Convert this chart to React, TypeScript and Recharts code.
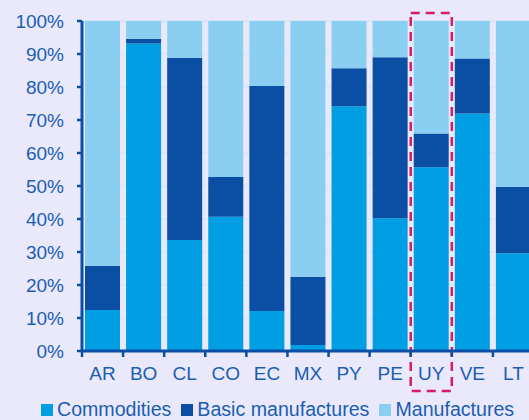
import React from 'react';
import { BarChart, Bar, XAxis, YAxis, CartesianGrid, Legend, ReferenceArea } from 'recharts';

const categories = ['AR', 'BO', 'CL', 'CO', 'EC', 'MX', 'PY', 'PE', 'UY', 'VE', 'LT'];
const commodities = [12.4, 93.2, 33.6, 40.7, 12.1, 1.8, 74.2, 40.2, 55.7, 72.0, 29.6];
const basicManufactures = [13.4, 1.4, 55.3, 12.0, 68.2, 20.7, 11.5, 48.8, 10.2, 16.6, 20.2];
const manufactures = [74.2, 5.4, 11.1, 47.3, 19.7, 77.5, 14.3, 11.0, 34.1, 11.4, 50.2];
const yTicks = [0, 10, 20, 30, 40, 50, 60, 70, 80, 90, 100];
const seriesNames = ['Commodities', 'Basic manufactures', 'Manufactures'];
const highlighted = 'UY';
const highlightLow = -12.1;
const highlightHigh = 102.4;

const data = categories.map((c, i) => ({
  name: c,
  commodities: commodities[i],
  basic: basicManufactures[i],
  manufactures: manufactures[i],
}));

const FONT = '"Liberation Sans", Arial, sans-serif';
const TEXT = '#1b5db3';
const AXIS = '#0b4ea6';
const BG = '#e9e9fb';
const C1 = '#009fe3';
const C2 = '#0a4fa3';
const C3 = '#8acff1';

const CHART_W = 560;
const CHART_H = 420;
const Y_W = 82;
const M_RIGHT = 26;
const BAND = (CHART_W - Y_W - M_RIGHT) / categories.length;
const X_TICK_SIZE = 5;
const X_TICK_MARGIN = 11;

function XTick(props: any) {
  const { x, y, payload } = props;
  const axisY = y - X_TICK_SIZE - X_TICK_MARGIN;
  const lx = x - BAND / 2;
  return (
    <g>
      <line x1={lx} x2={lx} y1={axisY} y2={axisY + X_TICK_SIZE + 1} stroke={AXIS} strokeWidth={2.5} />
      <text x={x} y={y} dy="0.71em" textAnchor="middle" fill={TEXT} fontSize={19} fontFamily={FONT}>
        {payload.value}
      </text>
    </g>
  );
}

function LegendContent(props: any) {
  const payload = [...(props.payload || [])].sort(
    (a: any, b: any) => seriesNames.indexOf(a.value) - seriesNames.indexOf(b.value)
  );
  return (
    <div
      style={{
        display: 'flex',
        alignItems: 'center',
        fontSize: 19.6,
        fontFamily: FONT,
        color: TEXT,
        whiteSpace: 'nowrap',
        lineHeight: 'normal',
      }}
    >
      {payload.map((entry: any) => (
        <span key={entry.value} style={{ display: 'inline-flex', alignItems: 'center', marginRight: 10 }}>
          <span
            style={{ display: 'inline-block', width: 12, height: 12, background: entry.color, marginRight: 4 }}
          />
          {entry.value}
        </span>
      ))}
    </div>
  );
}

export default function App() {
  return (
    <div
      style={{
        position: 'fixed',
        left: 0,
        top: 0,
        width: 529,
        height: 420,
        overflow: 'hidden',
        background: BG,
      }}
    >
      <BarChart
        width={CHART_W}
        height={CHART_H}
        data={data}
        margin={{ top: 21, right: M_RIGHT, bottom: 39, left: 0 }}
        barCategoryGap={3}
      >
        <CartesianGrid vertical={false} stroke="#d5e3f6" strokeWidth={1} />
        <XAxis
          dataKey="name"
          height={30}
          axisLine={{ stroke: AXIS, strokeWidth: 3 }}
          tickLine={false}
          tickSize={X_TICK_SIZE}
          tickMargin={X_TICK_MARGIN}
          tick={<XTick />}
          interval={0}
        />
        <YAxis
          width={Y_W}
          domain={[0, 100]}
          ticks={yTicks}
          tickFormatter={(v: number) => `${v}%`}
          axisLine={{ stroke: AXIS, strokeWidth: 3 }}
          tickLine={{ stroke: AXIS, strokeWidth: 2.5 }}
          tickSize={5}
          tickMargin={13}
          tick={{ fill: TEXT, fontSize: 19, fontFamily: FONT }}
          interval={0}
        />
        <Bar dataKey="commodities" name={seriesNames[0]} stackId="a" fill={C1} isAnimationActive={false} />
        <Bar dataKey="basic" name={seriesNames[1]} stackId="a" fill={C2} isAnimationActive={false} />
        <Bar dataKey="manufactures" name={seriesNames[2]} stackId="a" fill={C3} isAnimationActive={false} />
        <ReferenceArea
          x1={highlighted}
          x2={highlighted}
          y1={highlightLow}
          y2={highlightHigh}
          ifOverflow="visible"
          fill="none"
          fillOpacity={0}
          stroke="#d81b66"
          strokeWidth={2.5}
          strokeDasharray="9 6"
        />
        <Legend
          verticalAlign="middle"
          align="center"
          layout="horizontal"
          content={<LegendContent />}
          wrapperStyle={{ top: 398, left: 41, width: 500, height: 23 }}
        />
      </BarChart>
    </div>
  );
}
